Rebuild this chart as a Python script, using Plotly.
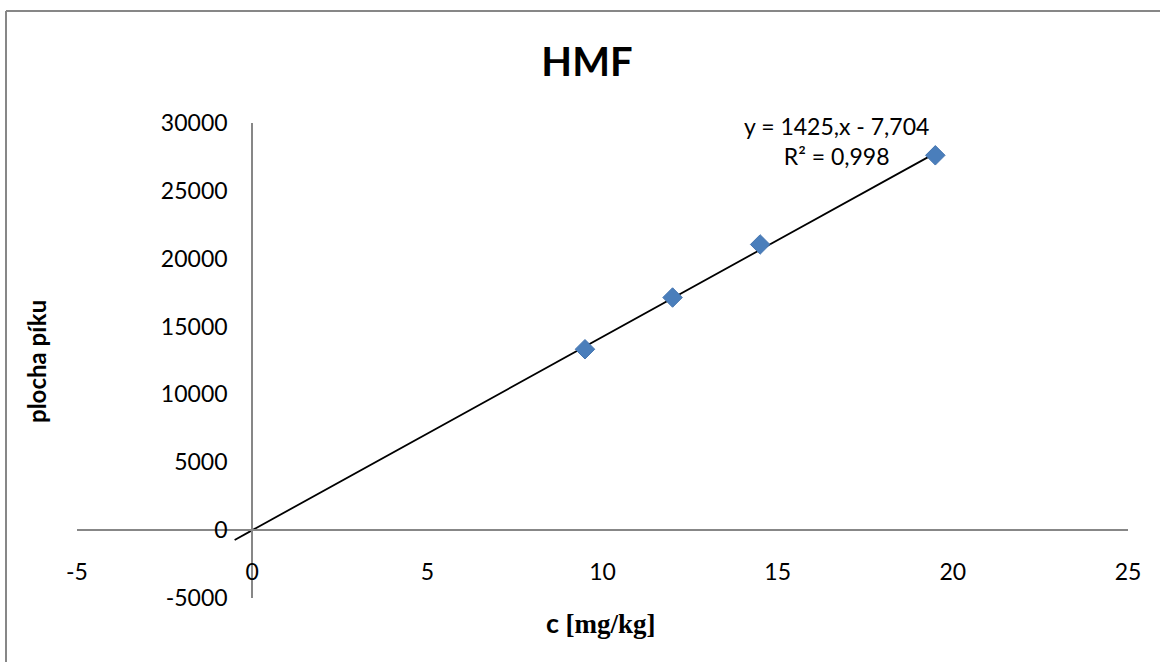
import plotly.graph_objects as go

# Calibration data: HMF concentration vs. peak area
conc = [9.5, 12.0, 14.5, 19.5]
peak_area = [13330, 17140, 21050, 27620]

# Linear trendline coefficients as stated in the equation label
slope = 1425.0
intercept = -7.704
r_squared = 0.998
trend_x = [-0.5, 19.5]
trend_y = [slope * x + intercept for x in trend_x]

x_ticks = [-5, 0, 5, 10, 15, 20, 25]
x_tick_labels = ["-5", "0", "5", "10", "15", "20", "25"]
y_ticks = [-5000, 0, 5000, 10000, 15000, 20000, 25000, 30000]
y_tick_labels = ["-5000", "0", "5000", "10000", "15000", "20000", "25000", "30000"]

W, H = 1160, 662
L, R, T, B = 77, 32, 123, 64
pw, ph = W - L - R, H - T - B

x_range = [-5, 25]
y_range = [-5000, 30000]
# axes cross at zero
x_axis_pos = (0 - y_range[0]) / (y_range[1] - y_range[0])
y_axis_pos = (0 - x_range[0]) / (x_range[1] - x_range[0])

font_main = "Lato, 'Open Sans', sans-serif"
axis_grey = "#878787"

fig = go.Figure()
fig.add_trace(go.Scatter(
    x=trend_x, y=trend_y, mode="lines",
    line=dict(color="black", width=1.8), showlegend=False, hoverinfo="skip"))
fig.add_trace(go.Scatter(
    x=conc, y=peak_area, mode="markers",
    marker=dict(symbol="diamond", size=15, color="#4A7EBB",
                line=dict(color="#4575B0", width=1)),
    showlegend=False))


def px_to_paper_x(px):
    return (px - L) / pw


def px_to_paper_y(py):
    return (H - B - py) / ph


fig.update_layout(
    width=W, height=H,
    margin=dict(l=L, r=R, t=T, b=B),
    paper_bgcolor="white", plot_bgcolor="white",
    font=dict(family=font_main, size=23, color="black"),
    title=dict(text="<b>HMF</b>", x=px_to_paper_x(587), xref="paper",
               xanchor="center", y=1 - 62 / H, yanchor="middle",
               font=dict(family=font_main, size=40, color="black")),
    xaxis=dict(range=x_range, tickvals=x_ticks, ticktext=x_tick_labels,
               showgrid=False, zeroline=False,
               anchor="free", position=x_axis_pos,
               showline=True, linecolor=axis_grey, linewidth=2,
               ticks="outside", ticklen=21, tickcolor="rgba(0,0,0,0)",
               tickfont=dict(size=23, color="black")),
    yaxis=dict(range=y_range, tickvals=y_ticks, ticktext=y_tick_labels,
               showgrid=False, zeroline=False,
               anchor="free", position=y_axis_pos,
               showline=True, linecolor=axis_grey, linewidth=2,
               ticks="outside", ticklen=19, tickcolor="rgba(0,0,0,0)",
               tickfont=dict(size=23, color="black")),
    annotations=[
        dict(text="<b>plocha píku</b>", textangle=-90, showarrow=False,
             xref="paper", yref="paper", x=px_to_paper_x(36), y=px_to_paper_y(362),
             xanchor="center", yanchor="middle",
             font=dict(family=font_main, size=24, color="black")),
        dict(text="<b>c </b><b><span style=\"font-family:'Liberation Serif', serif\">[mg/kg]</span></b>",
             showarrow=False, xref="paper", yref="paper",
             x=px_to_paper_x(601), y=px_to_paper_y(622),
             xanchor="center", yanchor="middle",
             font=dict(family=font_main, size=27, color="black")),
        dict(text=f"y = {slope:.0f},x - {abs(intercept):.3f}".replace(".", ",")
             + "<br>R² = " + f"{r_squared:.3f}".replace(".", ","),
             showarrow=False, xref="paper", yref="paper", align="center",
             x=px_to_paper_x(836), y=px_to_paper_y(141),
             xanchor="center", yanchor="middle",
             font=dict(family=font_main, size=23, color="black")),
    ],
    shapes=[
        # outer chart frame (left and top edges visible)
        dict(type="line", xref="paper", yref="paper",
             x0=px_to_paper_x(6), x1=px_to_paper_x(6),
             y0=px_to_paper_y(11), y1=px_to_paper_y(H + 5),
             line=dict(color=axis_grey, width=2)),
        dict(type="line", xref="paper", yref="paper",
             x0=px_to_paper_x(6), x1=px_to_paper_x(W + 5),
             y0=px_to_paper_y(11), y1=px_to_paper_y(11),
             line=dict(color=axis_grey, width=2)),
    ],
)

fig.write_html("out.html")
